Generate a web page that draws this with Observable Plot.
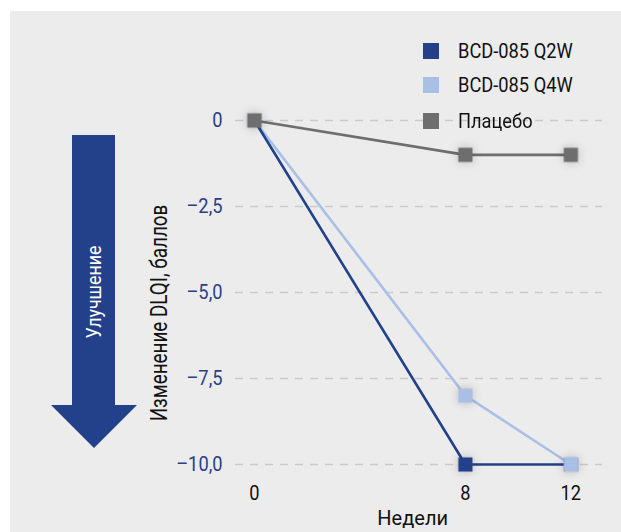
<!DOCTYPE html>
<html>
<head>
<meta charset="utf-8">
<script src="https://cdn.jsdelivr.net/npm/d3@7"></script>
<script src="https://cdn.jsdelivr.net/npm/@observablehq/plot@0.6"></script>
<style>
  html, body { margin: 0; padding: 0; background: #ffffff; }
  #wrap { position: relative; width: 621px; height: 532px; overflow: hidden; background: #ffffff; }
  #chart { position: absolute; left: 10px; top: 11px; }
  #legend { position: absolute; left: 423px; top: 40px; font-family: Roboto, sans-serif; font-size: 21px; color: #111; }
  .item { position: absolute; left: 0; white-space: nowrap; height: 22px; line-height: 22px; }
  .sw { position: absolute; left: 0; top: 3px; width: 16px; height: 16px; }
  .lb { position: absolute; left: 35px; top: 0; transform: scaleX(0.87); transform-origin: 0 50%; }
</style>
</head>
<body>
<div id="wrap">
  <div id="chart"></div>
  <div id="legend"></div>
</div>
<script>
// ---- data ----
const weeks = [0, 8, 12];
const seriesNames = ["BCD-085 Q2W", "BCD-085 Q4W", "Плацебо"];
const q2w = [0, -10, -10];
const q4w = [0, -8, -10];
const placebo = [0, -1, -1];
const seriesColors = ["#22418a", "#aabfe5", "#6e6e6e"];
const yTicks = [0, -2.5, -5, -7.5, -10];
const xTicks = [0, 8, 12];
const yLabel = "Изменение DLQI, баллов";
const xLabel = "Недели";
const arrowLabel = "Улучшение";

const FONT = 'Roboto, sans-serif';

const valuesBySeries = [q2w, q4w, placebo];
const rows = [];
seriesNames.forEach((s, i) => {
  weeks.forEach((w, j) => rows.push({series: s, week: w, value: valuesBySeries[i][j]}));
});
const lineOrder = [seriesNames[2], seriesNames[1], seriesNames[0]];
const lineRows = lineOrder.flatMap(s => rows.filter(r => r.series === s));
const dotRows = seriesNames.flatMap(s => rows.filter(r => r.series === s).reverse());

const fmtY = d => d === 0 ? "0" : "\u2013" + Math.abs(d).toFixed(1).replace(".", ",");

const chart = Plot.plot({
  width: 611,
  height: 521,
  marginLeft: 225,
  marginRight: 19,
  marginTop: 109,
  marginBottom: 68,
  style: {background: "#ececec", fontFamily: FONT, fontSize: "21px", color: "#111"},
  x: {domain: [-0.72, 13.2]},
  y: {domain: [-10, 0]},
  color: {domain: seriesNames, range: seriesColors},
  marks: [
    Plot.gridY(yTicks, {stroke: "#cacaca", strokeOpacity: 1, strokeWidth: 1.5, strokeDasharray: "8,7"}),
    Plot.axisY({ticks: yTicks, tickSize: 0, tickPadding: 13, tickFormat: fmtY, label: null, color: "#2b3f87", fontSize: 21}),
    Plot.axisX({ticks: xTicks, tickSize: 0, tickPadding: 21, tickFormat: d => String(d), label: null, color: "#111", fontSize: 21}),
    Plot.line(lineRows, {x: "week", y: "value", z: "series", stroke: "series", strokeWidth: 2.6}),
    Plot.dot(dotRows, {x: "week", y: "value", fill: "series", symbol: "square", r: 8}),
    Plot.text([xLabel], {x: d3.mean(d3.extent(weeks)), frameAnchor: "bottom", dy: 60, fill: "#111", fontSize: 20, ariaLabel: "x-label"})
  ]
});
document.getElementById("chart").appendChild(chart);

const svg = d3.select(chart);

// condensed look: squeeze glyphs horizontally around their anchor
function squeeze(sel, f) {
  sel.each(function() {
    const t = this.getAttribute("transform") || "";
    this.setAttribute("transform", t + ` scale(${f},1)`);
  });
}
squeeze(svg.selectAll('g[aria-label="y-axis tick label"] text'), 0.87);
squeeze(svg.selectAll('g[aria-label="x-axis tick label"] text'), 0.87);
squeeze(svg.selectAll('g[aria-label="x-label"] text'), 0.9);

// soft shadows on markers
svg.selectAll('g[aria-label="dot"]').style("filter", "drop-shadow(0px 0px 5px rgba(0,0,0,0.22))");

// rotated y-axis title
svg.append("text")
  .attr("transform", "translate(149,302) rotate(-90) scale(0.82,1)")
  .attr("text-anchor", "middle")
  .attr("dy", "0.35em")
  .attr("fill", "#111")
  .style("font-family", FONT)
  .style("font-size", "23px")
  .text(yLabel);

// decorative arrow
svg.insert("path", ":first-child")
  .attr("d", "M62,124H105V394H127L84,437L41,394H62Z")
  .attr("fill", "#22418a");
svg.select("path").lower();
svg.append("text")
  .attr("transform", "translate(84,281) rotate(-90) scale(0.89,1)")
  .attr("text-anchor", "middle")
  .attr("dy", "0.35em")
  .attr("fill", "#ffffff")
  .style("font-family", FONT)
  .style("font-size", "20px")
  .text(arrowLabel);

// legend
const legend = document.getElementById("legend");
const legendTops = [0, 34, 70];
seriesNames.forEach((s, i) => {
  const it = document.createElement("div");
  it.className = "item";
  it.style.top = legendTops[i] + "px";
  it.innerHTML = `<span class="sw" style="background:${seriesColors[i]}"></span><span class="lb"></span>`;
  it.querySelector(".lb").textContent = s;
  legend.appendChild(it);
});
</script>
</body>
</html>
